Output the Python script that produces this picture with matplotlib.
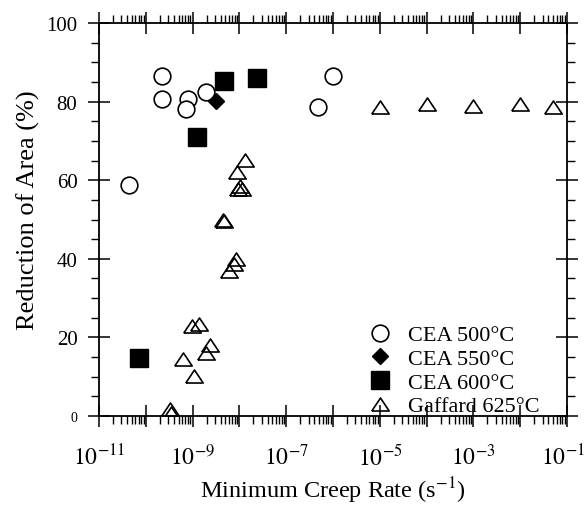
import matplotlib
matplotlib.use("Agg")
import matplotlib.pyplot as plt
import matplotlib.transforms as mtransforms
from matplotlib.ticker import LogLocator, FixedLocator, NullFormatter, FuncFormatter
import numpy as np

plt.rcParams['font.family'] = ['Liberation Serif', 'DejaVu Serif']
plt.rcParams['mathtext.fontset'] = 'stix'

# Data (minimum creep rate in 1/s, reduction of area in %)
cea500_x = [2.2e-10, 2.2e-10, 8.1e-10, 7.2e-10, 1.95e-9, 4.4e-11, 9.8e-7, 4.7e-7]
cea500_y = [86.6, 80.7, 80.7, 78.1, 82.5, 58.9, 86.6, 78.5]

cea550_x = [3.1e-9]
cea550_y = [80.2]

cea600_x = [4.7e-9, 2.4e-8, 1.27e-9, 7.1e-11]
cea600_y = [85.3, 86.0, 71.0, 14.8]

gaff_x = [1e-5, 1e-4, 1e-3, 1e-2, 5e-2,
          1.35e-8, 8.7e-9, 1.05e-8, 9.5e-9, 1.15e-8,
          4.5e-9, 4.7e-9,
          8.5e-9, 7.6e-9, 5.9e-9,
          9.5e-10, 1.4e-9, 2.3e-9, 1.95e-9, 6.3e-10, 1.07e-9,
          3.3e-10, 3.5e-10]
gaff_y = [78.5, 79.4, 78.8, 79.4, 78.5,
          65.2, 62.0, 58.6, 57.8, 57.8,
          50.0, 49.5,
          40.0, 38.7, 37.0,
          23.0, 23.4, 18.1, 16.0, 14.5, 10.3,
          1.8, 0.8]

labels = ['CEA 500°C', 'CEA 550°C', 'CEA 600°C', 'Gaffard 625°C']
x_major_exps = [-11, -9, -7, -5, -3, -1]
y_major = [0, 20, 40, 60, 80, 100]

fig = plt.figure(figsize=(5.87, 5.06), dpi=100)
ax = fig.add_axes([99/587, 1-417/506, 468/587, 393/506])

tri = [(-1, -0.75), (1, -0.75), (0, 0.75), (-1, -0.75)]

ax.plot(cea500_x, cea500_y, ls='none', marker='o', ms=12, mfc='white', mec='black', mew=1.2, label=labels[0], zorder=3)
ax.plot(cea550_x, cea550_y, ls='none', marker='D', ms=8.5, mfc='black', mec='black', mew=1.0, label=labels[1], zorder=3)
ax.plot(cea600_x, cea600_y, ls='none', marker='s', ms=13.5, mfc='black', mec='black', mew=1.0, label=labels[2], zorder=3)
ax.plot(gaff_x, gaff_y, ls='none', marker=tri, ms=12.5, mfc='none', mec='black', mew=1.2, label=labels[3], zorder=3)

ax.set_xscale('log')
ax.set_xlim(1e-11, 1e-1)
ax.set_ylim(0, 100)

ax.xaxis.set_major_locator(LogLocator(base=10, numticks=20))
ax.xaxis.set_minor_locator(LogLocator(base=10, subs=np.arange(2, 10), numticks=20))
ax.xaxis.set_minor_formatter(NullFormatter())

def xfmt(v, pos):
    e = int(round(np.log10(v)))
    if e in x_major_exps:
        return r'$10^{%d}$' % e
    return ''
ax.xaxis.set_major_formatter(FuncFormatter(xfmt))

ax.yaxis.set_major_locator(FixedLocator(y_major))
ax.yaxis.set_minor_locator(FixedLocator(np.arange(0, 101, 5)))

ax.tick_params(which='major', direction='inout', length=16, width=1.1,
               top=True, right=True)
ax.tick_params(which='minor', direction='out', length=5.5, width=1.0,
               top=True, right=True)
ax.tick_params(axis='x', which='major', pad=12, labelsize=17)
ax.tick_params(axis='y', which='major', pad=7.5, labelsize=15)

fig.canvas.draw()
for t, lab in zip(ax.get_yticks(), ax.get_yticklabels()):
    if t == 0:
        lab.set_fontsize(10)

# nudge the last x tick label slightly left so it stays inside the figure
for tick in ax.xaxis.get_major_ticks():
    if np.isclose(tick.get_loc(), 1e-1):
        lab = tick.label1
        lab.set_transform(lab.get_transform() +
                          mtransforms.ScaledTranslation(-3/72, 0, fig.dpi_scale_trans))

for s in ax.spines.values():
    s.set_linewidth(1.3)

ax.set_xlabel('Minimum Creep Rate (s$^{-1}$)', fontsize=17.5)
ax.xaxis.set_label_coords(0.5, (417 - 476) / 393)
ax.set_ylabel('Reduction of Area (%)', fontsize=19)
ax.yaxis.set_label_coords((40 - 99) / 468, (417 - 210) / 393)

leg = ax.legend(loc='upper left', bbox_to_anchor=(0.577, 0.232), frameon=False,
                fontsize=16, handlelength=1.0, handletextpad=0.75,
                labelspacing=0.14, borderpad=0, borderaxespad=0)

fig.savefig('out.png', dpi=100)
